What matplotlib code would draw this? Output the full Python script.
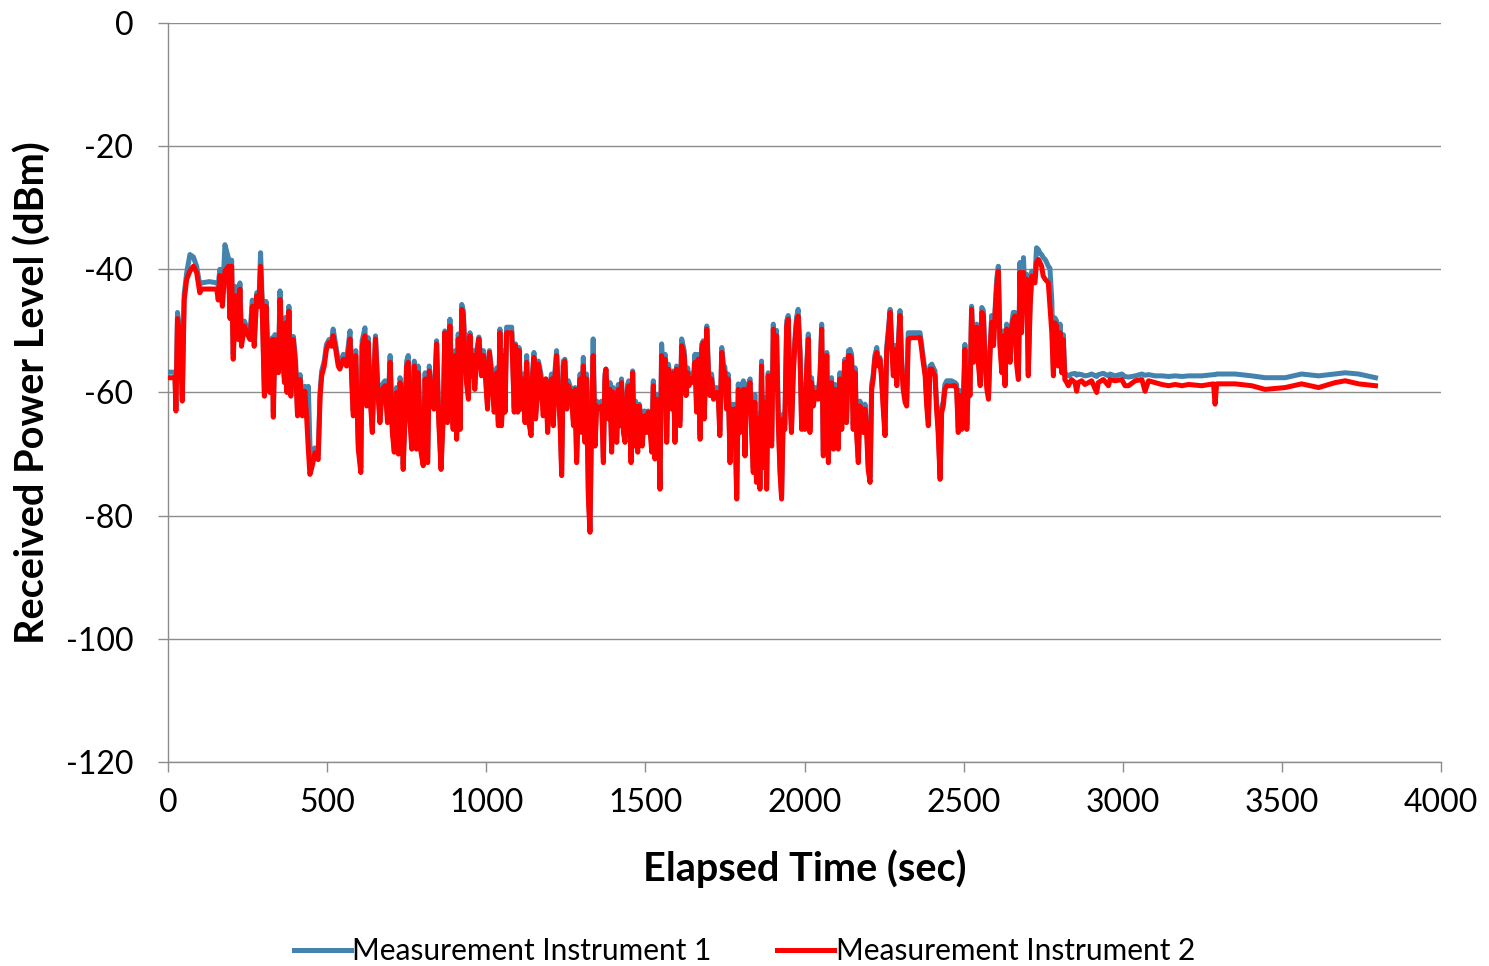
import matplotlib.pyplot as plt

# Time axis (sec) and readings (dBm) for both instruments
elapsed = [
    0, 22, 25, 30, 38, 45, 51, 59, 69, 80, 90, 100, 106, 130, 153, 158, 163, 171, 179, 190,
    195, 200, 205, 213, 221, 226, 231, 240, 247, 258, 265, 271, 279, 286, 291, 296, 303, 308, 315, 320,
    328, 331, 336, 347, 352, 357, 366, 370, 374, 380, 386, 394, 401, 407, 415, 422, 430, 436, 441, 446,
    453, 462, 472, 478, 483, 491, 498, 506, 514, 519, 527, 535,
    540, 551, 561, 572, 582, 590, 598, 606, 610, 619, 624, 629, 635, 642, 648, 652, 659, 666, 673, 682,
    690, 698, 705, 711, 718, 724, 729, 734, 739, 745, 750, 755, 760, 766, 774, 781, 786, 795, 802, 808,
    816, 821, 829, 836, 844, 851, 858, 865, 870, 878, 886, 891, 896, 902, 907, 912, 918, 923, 928, 933,
    938, 944, 949, 954, 959, 964, 970, 977, 985, 991, 996, 1004, 1010, 1017, 1025, 1033, 1038, 1043, 1048, 1057,
    1059, 1064, 1080, 1088, 1092, 1099, 1103, 1109, 1116, 1122, 1127, 1134, 1141, 1145, 1150, 1155, 1160, 1164, 1172, 1179,
    1187, 1193, 1200, 1205, 1211, 1216, 1221, 1226, 1232, 1237, 1242, 1247, 1253, 1258, 1268, 1274, 1279, 1284, 1289, 1295,
    1300, 1305, 1310, 1315, 1321, 1326, 1331, 1336, 1342, 1347, 1352, 1363, 1368, 1373, 1376, 1384, 1389, 1394, 1399, 1405,
    1410, 1415, 1420, 1425, 1431, 1436, 1444, 1448, 1455, 1460, 1465, 1469, 1476, 1481, 1486, 1490, 1497, 1504, 1509, 1514,
    1520, 1525, 1530, 1535, 1541, 1546, 1551, 1556, 1562, 1567, 1572, 1577, 1583, 1588, 1593,
    1598, 1603, 1609, 1614, 1622, 1628, 1633, 1637, 1643, 1651, 1656, 1661, 1666, 1672, 1677, 1682, 1685, 1693, 1698, 1703,
    1708, 1714, 1719, 1724, 1729, 1734, 1740, 1745, 1750, 1755, 1760, 1766, 1771, 1776, 1781, 1787, 1792, 1797, 1802, 1808,
    1813, 1818, 1823, 1829, 1834, 1839, 1844, 1849, 1855, 1860, 1865, 1870, 1876, 1881, 1886, 1891, 1897, 1902, 1907, 1912,
    1918, 1923, 1928, 1933, 1938, 1944, 1949, 1954, 1959, 1965, 1970, 1975, 1980, 1986, 1991, 1996, 2001, 2007, 2012, 2017,
    2022, 2028, 2033, 2038, 2043, 2049, 2054, 2059, 2064, 2070, 2075, 2080, 2085, 2091, 2096, 2101, 2106, 2111, 2117, 2122,
    2127, 2132, 2138,
    2143, 2148, 2153, 2159, 2164, 2169, 2174, 2180, 2185, 2190, 2195, 2200, 2206, 2211, 2216, 2221, 2227, 2232, 2237, 2242,
    2248, 2253, 2258, 2263, 2269, 2274, 2279, 2284, 2290, 2295, 2300, 2305, 2310, 2316, 2321, 2326, 2337, 2347, 2358, 2363,
    2368, 2373, 2379, 2384, 2389, 2394, 2400, 2405, 2410, 2415, 2420, 2426, 2431, 2436, 2441, 2447, 2452, 2462, 2473, 2478,
    2483, 2489, 2494, 2499, 2504, 2510, 2515, 2520, 2525, 2531, 2536, 2541, 2546, 2552, 2557, 2562, 2567, 2573, 2578, 2583,
    2588, 2594, 2599, 2604, 2609, 2614, 2620, 2625, 2630, 2635, 2641, 2646, 2651, 2656,
    2661, 2667, 2672, 2677, 2682, 2688, 2693, 2698, 2703, 2709, 2714, 2719, 2724, 2729, 2735, 2740, 2745, 2750, 2756, 2761,
    2766, 2771, 2777, 2782, 2787, 2792, 2797, 2803, 2808, 2813, 2818, 2824, 2829, 2839, 2850, 2855, 2860, 2871, 2881, 2892,
    2902, 2918, 2923, 2939, 2955, 2960, 2976, 2997, 3007, 3018, 3039, 3060, 3070, 3081, 3102, 3123, 3144, 3165, 3186, 3207,
    3248, 3285, 3290, 3295, 3353, 3405, 3447, 3510, 3562, 3615, 3667, 3699, 3741, 3794,
]

instrument2 = [
    -57.6, -57.6, -63.0, -48.0, -51.0, -61.4, -45.0, -41.6, -40.3, -39.5, -40.5, -43.8, -43.2, -43.2, -43.2, -45.0, -41.0, -46.0, -40.3, -39.5,
    -48.0, -39.5, -54.6, -44.3, -51.4, -43.2, -52.5, -49.2, -50.3, -51.4, -46.0, -52.5, -44.3, -46.0, -39.5, -46.0, -60.6, -46.0, -55.7, -60.0,
    -51.4, -64.0, -51.4, -56.8, -44.9, -51.4, -58.4, -48.7, -60.0, -46.8, -60.6, -51.4, -55.7, -63.8, -57.9, -63.8, -59.8, -64.3, -69.2, -73.3,
    -72.0, -69.8, -70.9, -60.6, -57.3, -55.7, -53.0, -51.9, -52.5, -50.8, -53.0, -55.7,
    -56.2, -54.6, -55.7, -51.3, -63.8, -54.0, -69.2, -73.0, -52.4, -50.8, -62.2, -51.9, -60.5, -66.5, -56.8, -51.3, -59.5, -64.9, -59.5, -58.9,
    -64.9, -55.1, -66.5, -69.7, -60.0, -70.0, -58.4, -60.0, -72.5, -63.8, -55.7, -55.1, -64.3, -69.2, -55.7, -69.2, -56.8, -69.7, -71.9, -57.8,
    -71.4, -56.5, -61.1, -62.7, -52.1, -64.9, -72.5, -63.8, -50.3, -64.9, -49.2, -59.5, -66.0, -54.0, -67.6, -51.3, -66.0, -46.5, -47.5, -54.0,
    -58.4, -61.1, -50.8, -57.3, -54.0, -59.5, -54.0, -51.3, -57.3, -54.0, -56.2, -62.7, -53.5, -57.3, -63.2, -56.8, -65.4, -50.3, -65.4, -54.0,
    -63.2, -50.3, -50.3, -63.2, -52.4, -63.2, -53.2, -62.7, -57.8, -64.9, -55.1, -64.9, -67.0, -57.8, -54.3, -64.3, -61.1, -55.4, -57.8, -63.8,
    -57.8, -66.5, -59.5, -57.8, -65.4, -57.3, -54.0, -59.5, -64.9, -73.5, -55.7, -54.9, -62.7, -58.9, -60.5, -65.4, -59.5, -71.4, -63.2, -57.8,
    -66.5, -55.7, -68.1, -57.8, -77.3, -82.7, -64.3, -54.0, -68.7, -62.2, -62.7, -62.2, -71.4, -57.8, -56.2, -64.3, -59.5, -69.7, -60.0, -63.2,
    -68.1, -59.5, -65.4, -58.4, -66.5, -68.1, -59.5, -58.9, -71.4, -56.8, -68.7, -62.2, -69.7, -62.2, -64.9, -68.7, -63.8, -66.5, -63.2, -65.4,
    -69.7, -58.9, -70.8, -61.1, -63.8, -75.7, -54.0, -57.8, -54.6, -68.1, -56.2, -57.8, -62.7, -56.8, -68.1,
    -56.2, -64.9, -65.4, -52.4, -54.0, -60.5, -56.8, -58.9, -57.8, -58.4, -55.1, -63.2, -54.6, -67.6, -53.0, -51.9, -64.3, -49.7, -56.8, -60.5,
    -57.8, -61.1, -60.5, -60.0, -60.5, -67.0, -53.5, -56.2, -56.8, -62.7, -57.8, -71.4, -62.7, -66.0, -62.7, -77.3, -59.5, -66.5, -60.0, -59.5,
    -70.3, -59.5, -59.5, -58.4, -66.5, -73.0, -61.6, -74.6, -64.3, -75.7, -55.7, -72.2, -61.6, -75.7, -57.3, -66.0, -68.7, -49.7, -59.5, -50.8,
    -65.4, -73.0, -77.3, -64.3, -66.0, -49.2, -48.1, -60.5, -66.5, -56.8, -51.9, -48.6, -47.6, -54.0, -66.0, -59.5, -66.0, -56.2, -51.3, -66.5,
    -58.4, -62.2, -60.0, -60.5, -61.1, -57.3, -49.7, -70.3, -62.2, -54.0, -71.4, -59.5, -58.4, -69.2, -59.5, -60.5, -69.2, -57.8, -66.0, -59.5,
    -55.1, -64.9, -54.0,
    -54.0, -54.6, -66.0, -56.8, -67.0, -71.4, -62.2, -63.2, -66.5, -62.7, -66.0, -72.5, -74.6, -59.5, -57.8, -54.6, -53.5, -55.7, -54.6, -57.8,
    -63.2, -67.0, -53.5, -50.8, -47.0, -52.4, -57.3, -53.0, -58.9, -52.4, -47.5, -55.1, -59.5, -61.6, -62.2, -51.3, -51.1, -51.1, -51.1, -51.1,
    -53.0, -55.1, -57.3, -62.2, -65.4, -56.2, -56.2, -56.8, -57.3, -62.7, -66.5, -74.1, -63.2, -62.2, -59.5, -58.9, -58.9, -58.9, -58.9, -59.5,
    -66.5, -60.5, -66.0, -62.2, -53.0, -66.0, -57.8, -60.5, -46.5, -55.1, -52.4, -49.4, -55.1, -58.9, -47.0, -47.5, -55.1, -59.5, -61.1, -53.5,
    -48.6, -52.4, -47.0, -42.7, -40.3, -52.4, -56.8, -50.8, -58.9, -49.7, -52.4, -55.1, -49.4, -48.1,
    -47.6, -55.7, -57.9, -40.5, -50.3, -40.5, -46.0, -41.6, -57.3, -46.0, -41.1, -41.6, -42.2, -38.9, -38.4, -38.9, -39.5, -41.1, -41.6, -41.9,
    -42.2, -46.0, -50.3, -57.3, -48.7, -49.2, -55.7, -50.3, -56.8, -51.4, -57.9, -58.4, -58.9, -57.9, -58.4, -59.8, -58.4, -58.1, -58.7, -58.4,
    -58.1, -60.0, -58.4, -57.9, -58.9, -57.9, -58.1, -57.9, -58.9, -58.9, -58.1, -57.9, -59.8, -58.1, -58.4, -58.7, -58.9, -58.7, -58.9, -58.7,
    -58.9, -58.6, -61.9, -58.6, -58.6, -58.9, -59.5, -59.2, -58.6, -59.2, -58.4, -58.1, -58.6, -58.9,
]

instrument1 = [
    -56.7, -56.7, -62.3, -47.0, -50.2, -60.5, -44.0, -40.5, -37.6, -38.0, -39.5, -42.5, -42.2, -42.0, -42.2, -42.5, -40.0, -44.8, -36.0, -38.2,
    -47.0, -38.5, -53.8, -42.8, -50.5, -42.2, -51.6, -48.4, -49.3, -50.5, -45.0, -51.6, -43.8, -45.0, -37.3, -45.0, -59.8, -45.2, -54.9, -59.2,
    -51.1, -63.2, -50.6, -56.0, -43.5, -50.6, -57.6, -47.8, -59.2, -46.0, -59.8, -50.9, -54.9, -63.0, -57.1, -63.0, -59.0, -63.5, -59.0, -68.5,
    -71.2, -69.0, -70.1, -59.8, -56.5, -54.9, -52.2, -51.4, -51.7, -49.7, -52.2, -54.9,
    -55.4, -53.8, -54.9, -50.0, -63.0, -53.2, -68.4, -72.2, -51.6, -49.5, -61.4, -51.1, -59.7, -65.7, -56.0, -50.8, -58.7, -64.1, -58.7, -58.1,
    -64.1, -54.0, -65.7, -68.9, -59.2, -69.2, -57.6, -59.2, -71.7, -63.0, -54.9, -54.0, -63.5, -68.4, -54.9, -68.4, -55.7, -68.9, -71.1, -56.8,
    -70.6, -55.7, -60.3, -61.9, -51.6, -64.1, -71.7, -63.0, -50.0, -64.1, -48.1, -58.7, -65.2, -53.2, -66.8, -50.5, -65.2, -45.7, -46.7, -53.2,
    -57.6, -60.3, -50.3, -56.5, -53.2, -58.7, -53.2, -51.0, -56.5, -53.2, -55.4, -61.9, -53.2, -56.5, -62.4, -56.0, -64.6, -49.7, -64.6, -53.2,
    -62.4, -49.4, -49.4, -62.4, -52.1, -62.4, -52.7, -61.9, -57.0, -64.1, -54.0, -64.1, -66.2, -57.0, -53.5, -63.5, -60.3, -54.9, -57.0, -63.0,
    -57.8, -65.7, -58.7, -57.0, -64.6, -56.5, -53.2, -58.7, -64.1, -72.7, -54.9, -54.6, -61.9, -58.1, -59.7, -64.6, -59.2, -70.6, -62.4, -57.0,
    -65.7, -54.3, -67.3, -57.0, -76.5, -81.9, -63.5, -51.3, -67.9, -61.4, -61.9, -61.4, -70.6, -57.0, -56.2, -63.5, -58.4, -68.9, -59.2, -62.4,
    -67.3, -58.7, -64.6, -57.8, -65.7, -67.3, -58.7, -58.1, -70.6, -56.5, -67.9, -61.4, -68.9, -61.9, -64.1, -67.9, -63.0, -65.7, -63.0, -64.6,
    -68.9, -58.1, -70.0, -60.3, -63.0, -74.9, -52.1, -57.0, -53.8, -67.3, -55.4, -57.0, -61.9, -56.5, -67.3,
    -55.7, -64.1, -64.6, -51.3, -53.2, -59.7, -56.0, -58.1, -57.0, -57.6, -53.8, -62.4, -53.8, -66.8, -52.2, -51.6, -63.5, -49.2, -56.0, -59.7,
    -57.0, -60.3, -59.7, -59.2, -59.7, -66.2, -52.7, -55.4, -55.9, -61.9, -57.0, -70.6, -61.9, -65.2, -61.9, -76.5, -58.6, -65.7, -59.2, -58.1,
    -69.5, -58.7, -58.7, -57.8, -65.7, -72.2, -60.3, -73.8, -63.5, -74.9, -54.9, -71.4, -60.8, -74.9, -56.8, -65.2, -67.9, -48.9, -58.7, -49.9,
    -64.6, -72.2, -76.5, -63.5, -65.2, -48.4, -47.5, -59.7, -65.7, -56.0, -51.1, -47.8, -46.5, -53.2, -65.2, -58.7, -65.2, -55.4, -50.5, -65.7,
    -57.6, -61.4, -59.2, -59.7, -60.3, -56.8, -48.9, -69.5, -61.4, -53.5, -70.6, -58.7, -57.6, -68.4, -58.7, -59.7, -68.4, -56.8, -65.2, -58.7,
    -54.6, -64.1, -53.2,
    -53.0, -53.8, -65.2, -56.0, -66.2, -70.6, -61.4, -62.2, -65.7, -61.9, -65.2, -71.7, -73.8, -58.7, -57.0, -54.0, -52.7, -54.9, -54.3, -57.0,
    -62.4, -66.2, -52.7, -50.0, -46.5, -51.6, -56.5, -52.4, -58.1, -51.6, -46.7, -54.3, -58.7, -60.8, -61.4, -50.3, -50.3, -50.3, -50.3, -50.3,
    -52.2, -54.3, -56.5, -61.4, -64.6, -55.7, -55.4, -56.0, -56.5, -61.9, -65.7, -73.3, -62.4, -61.4, -58.7, -58.1, -58.1, -58.1, -58.4, -58.7,
    -65.7, -59.7, -65.2, -61.4, -52.2, -65.2, -57.0, -59.7, -46.0, -54.3, -51.6, -48.9, -54.3, -58.1, -46.2, -46.7, -54.3, -58.7, -60.3, -53.0,
    -47.5, -51.6, -46.2, -41.5, -39.5, -51.6, -56.0, -50.0, -58.1, -48.9, -51.6, -54.3, -48.9, -47.0,
    -47.0, -54.9, -57.1, -38.9, -49.5, -38.1, -45.2, -40.8, -56.5, -45.2, -40.3, -40.8, -41.4, -36.5, -36.8, -37.4, -37.6, -38.1, -38.4, -38.9,
    -39.5, -39.8, -45.0, -56.5, -47.9, -48.4, -54.9, -48.9, -56.0, -50.6, -57.1, -57.1, -57.3, -57.0, -56.9, -57.2, -57.0, -57.1, -57.3, -57.2,
    -57.0, -57.4, -57.1, -56.9, -57.3, -57.0, -57.3, -57.0, -57.4, -57.5, -57.3, -57.0, -57.2, -57.1, -57.3, -57.3, -57.4, -57.3, -57.4, -57.3,
    -57.3, -57.1, -57.1, -57.0, -57.0, -57.3, -57.6, -57.6, -57.0, -57.3, -57.0, -56.8, -57.0, -57.6,
]

x_ticks = [0, 500, 1000, 1500, 2000, 2500, 3000, 3500, 4000]
y_ticks = [0, -20, -40, -60, -80, -100, -120]

plt.rcParams['font.family'] = ['Lato', 'DejaVu Sans']
plt.rcParams['axes.unicode_minus'] = False

fig = plt.figure(figsize=(14.89, 9.66), dpi=100)
ax = fig.add_axes([0.1128, 0.2112, 0.855, 0.765])

ax.plot(elapsed, instrument1, color='#4383ad', linewidth=3.6, label='Measurement Instrument 1',
        solid_joinstyle='round', zorder=3)
ax.plot(elapsed, instrument2, color='#ff0000', linewidth=3.6, label='Measurement Instrument 2',
        solid_joinstyle='round', zorder=4)

ax.set_xlim(0, 4000)
ax.set_ylim(-120, 0)
ax.set_xticks(x_ticks)
ax.set_yticks(y_ticks)
ax.grid(axis='y', color='#8c8c8c', linewidth=1.0)
ax.set_axisbelow(True)

for side in ['top', 'right']:
    ax.spines[side].set_visible(False)
for side in ['left', 'bottom']:
    ax.spines[side].set_color('#8c8c8c')
    ax.spines[side].set_linewidth(1.0)

ax.tick_params(axis='both', colors='#8c8c8c', labelcolor='black', labelsize=23, length=7, width=1)
ax.tick_params(axis='y', pad=18)
ax.tick_params(axis='x', pad=12)

ax.set_xlabel('Elapsed Time (sec)', fontsize=28.5, fontweight='bold', labelpad=22)
ax.set_ylabel('Received Power Level (dBm)', fontsize=28.5, fontweight='bold', labelpad=10)

fig.legend(loc='lower center', bbox_to_anchor=(0.5, -0.027), ncol=2, frameon=False,
           fontsize=21.5, handlelength=1.9, handletextpad=0.05, columnspacing=2.2)

plt.savefig('out.png', dpi=100)
